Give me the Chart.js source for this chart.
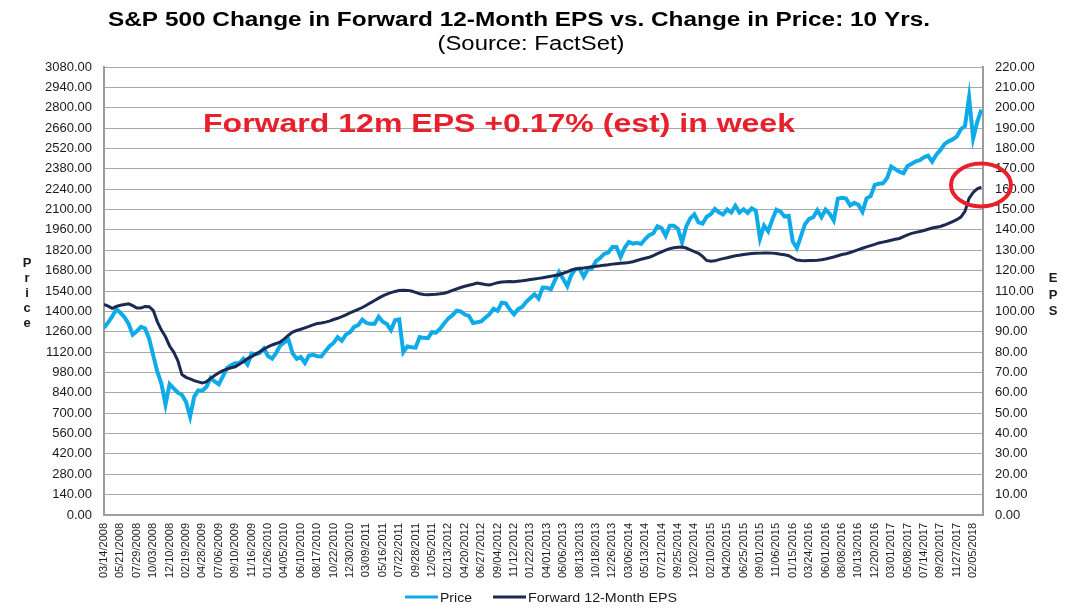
<!DOCTYPE html>
<html>
<head>
<meta charset="utf-8">
<script src="https://cdn.jsdelivr.net/npm/chart.js@4/dist/chart.umd.min.js"></script>
<style>
  html, body { margin: 0; padding: 0; background: #fff; }
  canvas { display: block; }
</style>
</head>
<body>
<canvas id="chart" width="1077" height="611"></canvas>
<script>
// Libellés de l'axe X (un tous les ~47 jours de bourse)
const tickLabels = [
    '03/14/2008', '05/21/2008', '07/29/2008', '10/03/2008', '12/10/2008', '02/19/2009',
    '04/28/2009', '07/06/2009', '09/10/2009', '11/16/2009', '01/26/2010', '04/05/2010',
    '06/10/2010', '08/17/2010', '10/22/2010', '12/30/2010', '03/09/2011', '05/16/2011',
    '07/22/2011', '09/28/2011', '12/05/2011', '02/13/2012', '04/20/2012', '06/27/2012',
    '09/04/2012', '11/12/2012', '01/22/2013', '04/01/2013', '06/06/2013', '08/13/2013',
    '10/18/2013', '12/26/2013', '03/06/2014', '05/13/2014', '07/21/2014', '09/25/2014',
    '12/02/2014', '02/10/2015', '04/20/2015', '06/25/2015', '09/01/2015', '11/06/2015',
    '01/15/2016', '03/24/2016', '06/01/2016', '08/08/2016', '10/13/2016', '12/20/2016',
    '03/01/2017', '05/08/2017', '07/14/2017', '09/20/2017', '11/27/2017', '02/05/2018'
];

// Un point tous les quarts d'intervalle entre deux libellés
const pointStep = 0.25;

// S&P 500 (axe gauche)
const priceValues = [
    1288, 1323, 1365, 1414,  1390, 1360, 1315, 1240,  1263, 1293, 1283, 1214,
    1099, 985, 904, 760,     899, 870, 842, 826,      778, 676, 813, 857,
    855, 882, 942, 918,      898, 954, 1010, 1029,    1044, 1044, 1073, 1036,
    1110, 1106, 1114, 1145,  1093, 1075, 1115, 1166,  1187, 1205, 1111, 1074,
    1086, 1045, 1096, 1102,  1092, 1090, 1125, 1160,  1183, 1223, 1198, 1240,
    1257, 1293, 1305, 1343,  1320, 1314, 1314, 1363,  1329, 1313, 1271, 1339,
    1345, 1119, 1159, 1154,  1151, 1224, 1218, 1216,  1257, 1254, 1281, 1318,
    1352, 1374, 1404, 1399,  1378, 1369, 1320, 1325,  1331, 1356, 1379, 1418,
    1404, 1460, 1455, 1412,  1380, 1415, 1430, 1466,  1492, 1518, 1488, 1563,
    1562, 1552, 1614, 1669,  1622, 1573, 1652, 1691,  1694, 1638, 1688, 1694,
    1745, 1767, 1795, 1805,  1842, 1842, 1774, 1838,  1877, 1866, 1872, 1863,
    1897, 1924, 1937, 1985,  1973, 1920, 1988, 1988,  1966, 1874, 1982, 2039,
    2067, 2012, 2003, 2051,  2068, 2104, 2081, 2066,  2100, 2080, 2126, 2080,
    2102, 2077, 2108, 2092,  1900, 1990, 1951, 2030,  2099, 2086, 2052, 2057,
    1880, 1835, 1918, 2001,  2036, 2047, 2095, 2047,  2100, 2071, 2025, 2175,
    2181, 2175, 2128, 2146,  2133, 2085, 2177, 2192,  2270, 2277, 2280, 2316,
    2396, 2378, 2360, 2349,  2399, 2415, 2432, 2440,  2459, 2470, 2430, 2477,
    2508, 2549, 2569, 2582,  2602, 2652, 2674, 2872,  2590, 2703, 2786
];

// BPA prévisionnel 12 mois (axe droit)
const epsValues = [
    103.4, 102.6, 101.5, 102.4,  103.0, 103.4, 103.7, 102.8,  101.6, 101.6, 102.4, 102.3,
    100.5, 95.0, 90.8, 87.5,     83.0, 80.0, 75.8, 69.0,      67.6, 66.8, 66.0, 65.4,
    64.8, 65.5, 67.1, 68.5,      69.8, 70.9, 71.6, 72.3,      72.8, 74.0, 75.3, 76.8,
    77.8, 79.0, 80.2, 81.4,      82.6, 83.5, 84.2, 85.0,      86.5, 88.3, 89.8, 90.6,
    91.2, 91.9, 92.6, 93.4,      94.0, 94.3, 94.7, 95.2,      96.0, 96.6, 97.4, 98.3,
    99.2, 100.1, 101.0, 101.9,   103.0, 104.2, 105.3, 106.5,  107.6, 108.5, 109.2, 109.8,
    110.2, 110.4, 110.3, 110.0,  109.3, 108.6, 108.3, 108.2,  108.3, 108.4, 108.6, 108.9,
    109.5, 110.3, 111.0, 111.7,  112.3, 112.8, 113.3, 113.9,  113.6, 113.2, 113.0, 113.5,
    114.1, 114.4, 114.6, 114.7,  114.6, 114.8, 115.0, 115.3,  115.6, 115.9, 116.2, 116.5,
    116.9, 117.2, 117.6, 118.0,  118.7, 119.4, 120.3, 120.8,  121.1, 121.3, 121.6, 121.9,
    122.2, 122.4, 122.7, 122.9,  123.2, 123.4, 123.6, 123.8,  124.0, 124.4, 125.0, 125.6,
    126.1, 126.6, 127.4, 128.3,  129.2, 130.1, 130.8, 131.2,  131.5, 131.6, 131.1, 130.2,
    129.3, 128.5, 127.0, 125.0,  124.6, 124.8, 125.4, 125.9,  126.3, 126.8, 127.3, 127.6,
    127.9, 128.2, 128.4, 128.5,  128.6, 128.7, 128.7, 128.6,  128.4, 128.0, 127.8, 127.3,
    126.2, 125.2, 125.0, 124.9,  125.0, 125.0, 125.1, 125.3,  125.7, 126.2, 126.7, 127.3,
    127.9, 128.3, 128.9, 129.6,  130.3, 131.0, 131.7, 132.3,  132.9, 133.6, 134.0, 134.4,
    134.9, 135.4, 135.8, 136.7,  137.6, 138.3, 138.8, 139.2,  139.7, 140.3, 140.9, 141.3,
    141.7, 142.4, 143.2, 144.1,  145.0, 146.3, 149.1, 155.5,  158.4, 160.2, 161.0
];

const seriesNames = ['Price', 'Forward 12-Month EPS'];

const colors = {
    price: '#0fabe9',
    eps: '#1b2a52',
    red: '#e8202c',
    grid: '#a8a8a8',
    axis: '#9c9c9c',
    text: '#1a1a1a'
};

const FONT = "'Liberation Sans', Arial, sans-serif";

// Texte étiré horizontalement pour coller à la largeur de l'original
function drawWide(ctx, text, cx, baseline, font, color, targetWidth) {
    ctx.save();
    ctx.font = font;
    ctx.fillStyle = color;
    ctx.textAlign = 'center';
    ctx.textBaseline = 'alphabetic';
    const w = ctx.measureText(text).width;
    ctx.translate(cx, baseline);
    ctx.scale(targetWidth / w, 1);
    ctx.fillText(text, 0, 0);
    ctx.restore();
}

function drawStacked(ctx, text, cx, firstBaseline, gap) {
    ctx.save();
    ctx.font = 'bold 13px ' + FONT;
    ctx.fillStyle = colors.text;
    ctx.textAlign = 'center';
    text.split('').forEach((ch, i) => ctx.fillText(ch, cx, firstBaseline + i * gap));
    ctx.restore();
}

const decorations = {
    id: 'decorations',
    afterDraw(chart) {
        const ctx = chart.ctx;
        drawWide(ctx, 'S&P 500 Change in Forward 12-Month EPS vs. Change in Price: 10 Yrs.',
            519, 26, 'bold 19.5px ' + FONT, '#000', 822);
        drawWide(ctx, '(Source: FactSet)', 531, 50, '19.5px ' + FONT, '#000', 187);
        drawWide(ctx, 'Forward 12m EPS +0.17% (est) in week', 499, 132,
            'bold 25.5px ' + FONT, colors.red, 592);

        drawStacked(ctx, 'Price', 27, 267, 15);
        drawStacked(ctx, 'EPS', 1053, 282, 16.5);

        // Cercle rouge autour de la fin de la courbe BPA
        ctx.save();
        ctx.strokeStyle = colors.red;
        ctx.lineWidth = 4;
        ctx.beginPath();
        ctx.ellipse(981, 185, 30, 21.5, 0, 0, Math.PI * 2);
        ctx.stroke();
        ctx.restore();

        // Légende
        const items = [
            { x: 405, color: colors.price, label: seriesNames[0], width: 32 },
            { x: 493, color: colors.eps, label: seriesNames[1], width: 149 }
        ];
        items.forEach(it => {
            ctx.save();
            ctx.strokeStyle = it.color;
            ctx.lineWidth = 3;
            ctx.beginPath();
            ctx.moveTo(it.x, 597);
            ctx.lineTo(it.x + 33, 597);
            ctx.stroke();
            ctx.font = '13px ' + FONT;
            ctx.fillStyle = colors.text;
            ctx.textBaseline = 'alphabetic';
            const w = ctx.measureText(it.label).width;
            ctx.translate(it.x + 35, 602);
            ctx.scale(it.width / w, 1);
            ctx.fillText(it.label, 0, 0);
            ctx.restore();
        });
    }
};

const pricePoints = priceValues.map((v, i) => ({ x: i * pointStep, y: v }));
const epsPoints = epsValues.map((v, i) => ({ x: i * pointStep, y: v }));

new Chart(document.getElementById('chart'), {
    type: 'line',
    data: {
        datasets: [{
            label: seriesNames[0],
            data: pricePoints,
            yAxisID: 'yPrice',
            borderColor: colors.price,
            backgroundColor: colors.price,
            borderWidth: 4,
            pointRadius: 0,
            order: 1
        }, {
            label: seriesNames[1],
            data: epsPoints,
            yAxisID: 'yEps',
            borderColor: colors.eps,
            backgroundColor: colors.eps,
            borderWidth: 3,
            pointRadius: 0,
            order: 0
        }]
    },
    options: {
        responsive: false,
        animation: false,
        layout: { padding: { top: 67, left: 0, right: 0, bottom: 0 } },
        plugins: {
            legend: { display: false },
            title: { display: false },
            tooltip: { enabled: false }
        },
        scales: {
            x: {
                type: 'linear',
                min: 0,
                max: 53.6,
                afterBuildTicks: s => { s.ticks = tickLabels.map((_, i) => ({ value: i })); },
                afterFit: s => { s.height = 96; },
                grid: { display: false },
                border: { display: true, color: colors.axis, width: 1.5 },
                ticks: {
                    autoSkip: false,
                    minRotation: 90,
                    maxRotation: 90,
                    padding: 0,
                    color: colors.text,
                    font: { family: FONT, size: 11 },
                    callback: v => tickLabels[v] ?? ''
                }
            },
            yPrice: {
                position: 'left',
                min: 0,
                max: 3080,
                afterFit: s => { s.width = 104; },
                grid: { color: colors.grid, lineWidth: 1, drawTicks: false },
                border: { color: colors.axis, width: 2 },
                ticks: {
                    stepSize: 140,
                    padding: 12,
                    color: colors.text,
                    font: { family: FONT, size: 13 },
                    callback: v => v.toFixed(2)
                }
            },
            yEps: {
                position: 'right',
                min: 0,
                max: 220,
                afterFit: s => { s.width = 94; },
                grid: { display: false, drawTicks: false },
                border: { color: colors.axis, width: 2 },
                ticks: {
                    stepSize: 10,
                    padding: 12,
                    color: colors.text,
                    font: { family: FONT, size: 13 },
                    callback: v => v.toFixed(2)
                }
            }
        }
    },
    plugins: [decorations]
});
</script>
</body>
</html>
